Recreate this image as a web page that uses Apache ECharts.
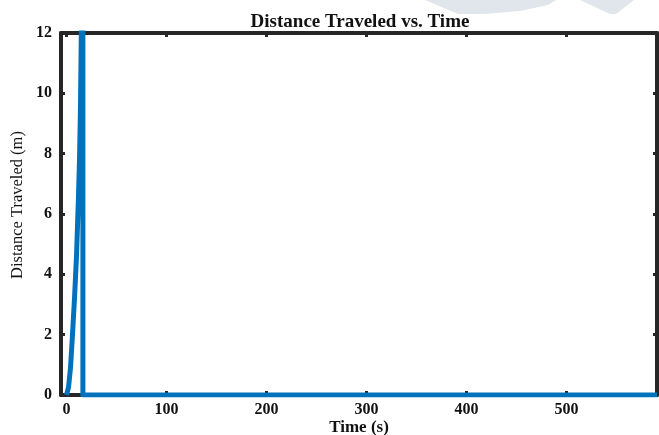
<!DOCTYPE html>
<html lang="en">
<head>
    <meta charset="UTF-8">
    <title>Distance Traveled vs. Time</title>
    <script src="https://cdn.jsdelivr.net/npm/echarts@6/dist/echarts.min.js"></script>
    <style>
        html, body { margin: 0; padding: 0; background: #fff; }
        #main { width: 659px; height: 435px; }
    </style>
</head>
<body>
<div id="main"></div>
<script>
    var timeS = [0, 2, 4, 6, 8, 10, 12, 13, 14, 15, 16, 16.4, 16.4, 590.5];
    var distM = [0, 0.25, 0.9, 2.0, 3.2, 4.6, 6.6, 7.8, 9.6, 12.6, 16, 18, 0, 0];
    var xTicks = [0, 100, 200, 300, 400, 500];
    var yTicks = [0, 2, 4, 6, 8, 10, 12];

    var serif = 'Liberation Serif';
    var axisColor = '#262626';

    var points = [];
    for (var i = 0; i < timeS.length; i++) {
        points.push([timeS[i], distM[i]]);
    }

    var chart = echarts.init(document.getElementById('main'));

    function xAxisOf(pos, showLabel) {
        return {
            type: 'value',
            position: pos,
            min: -5.5,
            max: 590.5,
            name: showLabel ? 'Time (s)' : '',
            nameLocation: 'middle',
            nameGap: 24,
            nameMoveOverlap: false,
            nameTextStyle: { fontFamily: serif, fontWeight: 'bold', fontSize: 17, color: '#111' },
            splitLine: { show: false },
            axisLine: { onZero: false, lineStyle: { color: axisColor, width: 4 } },
            axisTick: { show: true, inside: true, length: 4, customValues: xTicks,
                lineStyle: { color: axisColor, width: 3 } },
            axisLabel: { show: showLabel, customValues: xTicks, margin: 7,
                fontFamily: serif, fontWeight: 'bold', fontSize: 16, color: '#111' }
        };
    }

    function yAxisOf(pos, showLabel) {
        return {
            type: 'value',
            position: pos,
            min: yTicks[0],
            max: yTicks[yTicks.length - 1],
            interval: 2,
            name: showLabel ? 'Distance Traveled (m)' : '',
            nameLocation: 'middle',
            nameGap: 35,
            nameRotate: 90,
            nameMoveOverlap: false,
            nameTextStyle: { fontFamily: serif, fontSize: 16.5, color: '#111', padding: [0, 0, 0, 18] },
            splitLine: { show: false },
            axisLine: { show: true, onZero: false, lineStyle: { color: axisColor, width: 4 } },
            axisTick: { show: true, inside: true, length: 4,
                lineStyle: { color: axisColor, width: 3 } },
            axisLabel: { show: showLabel, margin: 9,
                fontFamily: serif, fontWeight: 'bold', fontSize: 16, color: '#111' }
        };
    }

    chart.setOption({
        animation: false,
        backgroundColor: '#fff',
        title: {
            text: 'Distance Traveled vs. Time',
            left: 355,
            top: 8,
            textAlign: 'center',
            textStyle: { fontFamily: serif, fontWeight: 'bold', fontSize: 19, color: '#111' }
        },
        graphic: [
            {
                type: 'polygon', z: -1, silent: true,
                shape: { points: [[425, 0], [556, 0], [548, 5], [520, 11], [485, 14], [458, 14]] },
                style: { fill: '#e1e6ec' }
            },
            {
                type: 'polygon', z: -1, silent: true,
                shape: { points: [[580, 0], [634, 0], [616, 14], [610, 14]] },
                style: { fill: '#e1e6ec' }
            }
        ],
        grid: { left: 61, top: 33, right: 2, bottom: 40, outerBoundsMode: 'none', containLabel: false },
        xAxis: [xAxisOf('bottom', true), xAxisOf('top', false)],
        yAxis: [yAxisOf('left', true), yAxisOf('right', false)],
        series: [
            {
                type: 'line',
                data: points,
                showSymbol: false,
                clip: true,
                lineStyle: { color: '#0072BD', width: 5, join: 'round' }
            }
        ]
    });
</script>
</body>
</html>
